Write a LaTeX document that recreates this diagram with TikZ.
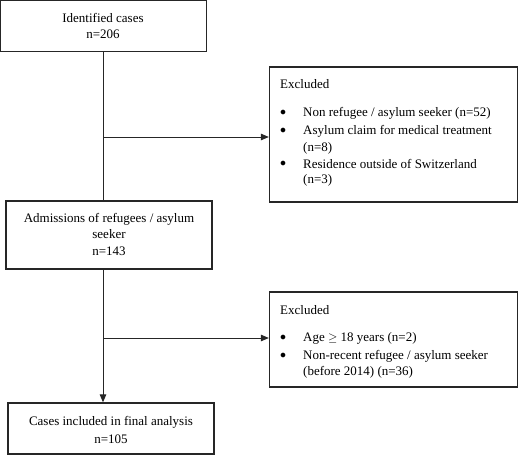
\documentclass[tikz,border=0pt]{standalone}
\usepackage{fontspec}
\setmainfont{Liberation Serif}
\usetikzlibrary{arrows.meta}
\begin{document}
\begin{tikzpicture}[x=1pt,y=-1pt,
  box/.style={draw=black!85,line width=1.3pt,rectangle,inner sep=0pt},
  txt/.style={inner sep=0pt,font=\fontsize{13}{15}\selectfont},
  conn/.style={line width=1pt,black!85},
  arr/.style={conn,-{Triangle[length=8pt,width=6.5pt]}}]
\useasboundingbox (0,0) rectangle (520,456);
% boxes
\node[box,minimum width=206pt,minimum height=51pt] (b1) at (103.75,26.25) {};
\node[box,minimum width=206pt,minimum height=68pt] (b2) at (109,235) {};
\node[box,minimum width=206pt,minimum height=51pt] (b3) at (111,428.5) {};
\node[box,minimum width=248pt,minimum height=135pt] (e1) at (393.5,134.5) {};
\node[box,minimum width=248pt,minimum height=95pt] (e2) at (393.5,339.5) {};
% texts box 1
\node[txt] (t1a) at (103,18) {Identified cases};
\node[txt] (t1b) at (103,34) {n=206};
% texts box 2
\node[txt] (t2a) at (109,219) {Admissions of refugees / asylum};
\node[txt] (t2b) at (109,234) {seeker};
\node[txt] (t2c) at (109,251) {n=143};
% texts box 3
\node[txt] (t3a) at (111,422) {Cases included in final analysis};
\node[txt] (t3b) at (111,439) {n=105};
% excluded 1
\node[txt,anchor=west] (x1) at (280,84) {Excluded};
\node[txt] (x1b1) at (283,113) {$\bullet$};
\node[txt,anchor=west] (x1l1) at (303,113) {Non refugee / asylum seeker (n=52)};
\node[txt] (x1b2) at (283,131) {$\bullet$};
\node[txt,anchor=west] (x1l2) at (303,131) {Asylum claim for medical treatment};
\node[txt,anchor=west] (x1l3) at (303,148) {(n=8)};
\node[txt] (x1b3) at (283,164) {$\bullet$};
\node[txt,anchor=west] (x1l4) at (303,164) {Residence outside of Switzerland};
\node[txt,anchor=west] (x1l5) at (303,180) {(n=3)};
% excluded 2
\node[txt,anchor=west] (x2) at (280,310) {Excluded};
\node[txt] (x2b1) at (283,338) {$\bullet$};
\node[txt,anchor=west] (x2l1) at (303,338) {Age $\geq$ 18 years (n=2)};
\node[txt] (x2b2) at (283,356) {$\bullet$};
\node[txt,anchor=west] (x2l2) at (303,356) {Non-recent refugee / asylum seeker};
\node[txt,anchor=west] (x2l3) at (303,372) {(before 2014) (n=36)};
% connectors
\coordinate (j1) at (103,137);
\coordinate (j2) at (103,338);
\draw[conn] (b1.south -| j1) -- (j1 |- b2.north);
\draw[arr] (j1) -- (j1 -| e1.west);
\draw[arr] (b2.south -| j2) -- (j2 |- b3.north);
\draw[arr] (j2) -- (j2 -| e2.west);
\end{tikzpicture}
\end{document}
